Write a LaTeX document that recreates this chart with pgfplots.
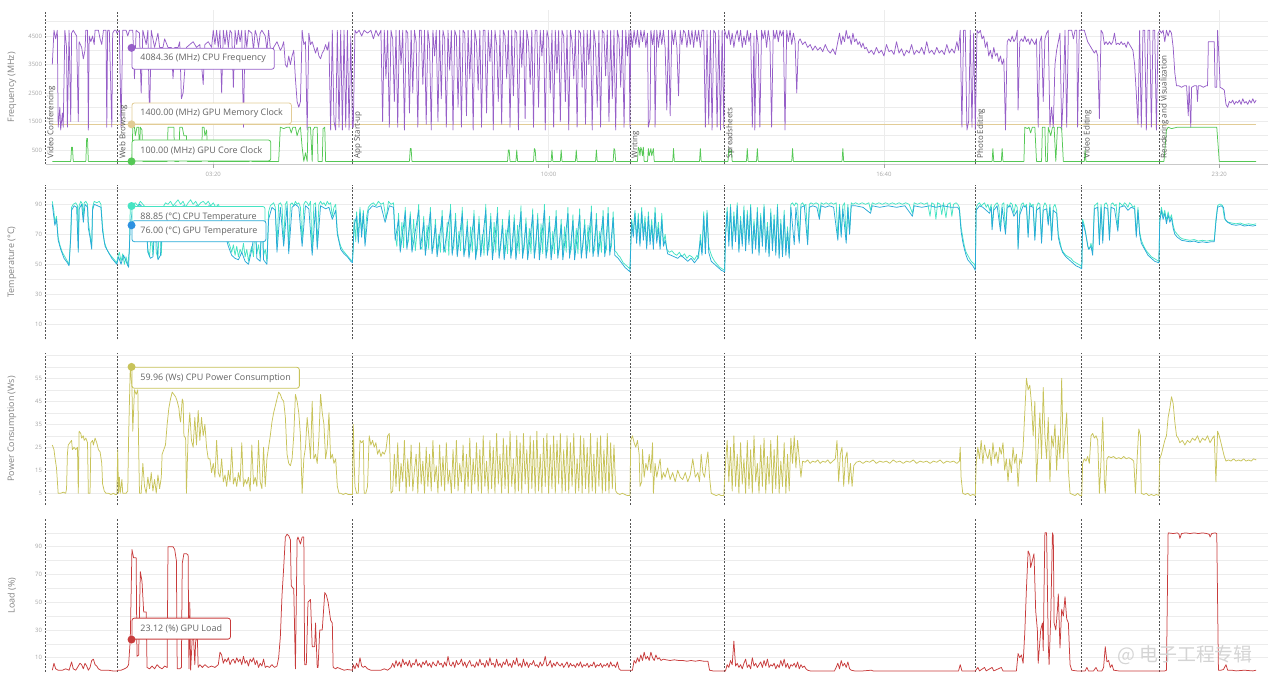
\documentclass[border=0pt]{standalone}
\usepackage{fontspec}
\setmainfont{Open Sans}
\newfontfamily\cjk{Noto Sans CJK SC}
\usepackage{pgfplots}
\pgfplotsset{compat=1.18}
\definecolor{cfreq}{RGB}{150,95,200}
\definecolor{cmem}{RGB}{226,204,150}
\definecolor{ccore}{RGB}{85,200,85}
\definecolor{ccput}{RGB}{70,228,195}
\definecolor{cgput}{RGB}{40,170,215}
\definecolor{cgpudot}{RGB}{45,145,225}
\definecolor{cpow}{RGB}{200,195,90}
\definecolor{cload}{RGB}{200,60,60}
\definecolor{gridc}{RGB}{236,236,236}
\definecolor{tickc}{RGB}{165,165,165}
\definecolor{labc}{RGB}{130,130,130}
\definecolor{evc}{RGB}{85,85,85}
\definecolor{tipc}{RGB}{100,100,100}
\pgfplotsset{
  panel/.style={scale only axis, width=1222.3bp, xmin=0, xmax=1458,
    axis line style={draw=none}, xtick=\empty, tick style={draw=none},
    major tick length=0pt, minor tick length=0pt,
    grid=both, major grid style={gridc, line width=0.6bp},
    minor grid style={gridc, line width=0.6bp},
    yticklabel style={font=\fontsize{6}{7}\selectfont, text=tickc},
    ylabel style={font=\fontsize{9}{10}\selectfont, text=labc,
      at={(axis description cs:-0.0275,0.5)}, anchor=center},
    clip=false, anchor=south west},
  ln/.style={line width=0.75bp, line join=round},
}
\tikzset{
  tip/.style={draw=#1, fill=white, rounded corners=2.5bp, line width=0.8bp,
    font=\fontsize{9}{10}\selectfont, text=tipc, inner xsep=8.5bp,
    inner ysep=0pt, minimum height=21bp},
  evlab/.style={rotate=90, anchor=north west, font=\fontsize{8}{9}\selectfont,
    text=evc, inner sep=1.5bp},
  vl/.style={evc, dash pattern=on 2bp off 1.5bp, line width=0.6bp},
}
\newcommand\vlines[1]{\pgfplotsinvokeforeach{0,86,366,697,810,1109,1236,1328}{\draw[vl] (axis cs:##1,0) -- (axis cs:##1,#1);}}
\begin{document}
\begin{tikzpicture}
\useasboundingbox (0,0) rectangle (1269bp,682bp);
% ================= Frequency =================
\begin{axis}[panel, at={(45.6bp,517.75bp)}, height=153.9bp, ymin=0, ymax=5400,
  ytick={500,1500,2500,3500,4500}, yticklabels={500,1500,2500,3500,4500},
  minor ytick={1000,2000,3000,4000,5000},
  xtick={200,600,1000,1400}, xticklabels={03:20,10:00,16:40,23:20},
  xticklabel style={font=\fontsize{6}{7}\selectfont, text=tickc, yshift=-4bp},
  ylabel={Frequency (MHz)}]
\draw[tickc!60, line width=0.6bp] (axis cs:0,0) -- (axis cs:1458,0);
\pgfplotsinvokeforeach{200,600,1000,1400}{\draw[tickc, line width=0.6bp] (axis cs:#1,0) -- ++(0,-3.5bp);}
\vlines{5400}
\addplot[ln, cmem] coordinates {(8,1400)(1444,1400)};
\addplot[ln, cfreq] coordinates {
(8,3500)(10,4700)(12,4400)(14,4700)(15,1300)(17,2000)(18,1200)(20,1800)(21,1300)(23,4700)(25,4100)(26,1300)(28,4700)(30,1500)(31,4600)(33,4700)(37,4500)(39,1500)(40,4300)(43,4100)(45,3700)(47,4000)(48,4700)(50,4700)(51,1200)(52,4500)(54,4300)(56,4500)(58,4200)(59,4700)(63,4700)(65,4400)(67,4200)(69,4700)(72,4700)(73,1300)(74,4700)(76,4700)(79,1300)(80,4600)(82,4700)(84,4700)(85,4600)
(88,4700)(90,1300)(92,4700)(96,4700)(98,4500)(100,4700)(104,4700)(106,3000)(108,4700)(112,4600)(114,2500)(116,4700)(120,4200)(122,4700)(124,1500)(126,4700)(130,4100)(134,4600)(136,4100)(140,4100)(142,4400)(146,4100)(150,4100)(152,3000)(154,4100)(158,4100)(160,4300)(162,2300)(164,2500)(168,4100)(172,4200)(176,4300)(180,4100)(184,4200)(188,2800)(190,4200)(194,4300)(198,4100)(200,4700)(202,4200)(204,4700)(206,4100)(208,4700)(210,2500)(212,4700)(214,4200)(216,4700)(218,4100)(220,4700)(222,4600)(224,2700)(226,4700)(228,4200)(230,4700)(232,4300)(234,4700)(236,1300)(238,4700)(240,4100)(242,4700)(246,4600)(248,4000)(250,4700)(252,4500)(254,4100)(256,4600)(258,4700)(262,4500)(264,4000)(266,4700)(268,4100)(270,3500)(272,4100)(276,4300)(280,4000)(282,4100)(284,4300)(286,3500)(288,3400)(290,3800)(292,3500)(294,3800)(296,4000)(298,3000)(300,2200)(302,2000)(304,2200)(306,4700)(308,4200)(310,4300)(312,1200)(314,4600)(316,4200)(318,4300)(320,4100)(322,3900)(324,4100)(326,3800)(328,3700)(330,3900)(332,4000)(334,4200)(336,4000)(338,4300)(340,1200)(342,4700)(344,1500)(346,1200)(348,4700)(350,1300)(352,4700)(354,1200)(356,4700)(358,1300)(360,4700)(362,1200)(364,4500)(366,1300)
(367,1300)(369,4700)(371,4600)(374,4700)(377,4500)(380,4700)(384,4600)(388,4700)(391,4400)(394,4700)(397,4500)(400,4700)(402,1500)(404,4700)(406,3000)(408,4700)(410,1300)(412,4700)(414,4400)(416,2200)(418,4700)(420,1300)(422,4700)(424,3500)(426,4700)(428,1200)(430,4700)(432,4600)(434,1800)(436,4700)(438,2500)(440,4700)(442,4300)(444,1300)(446,4700)(448,4700)(450,2800)(452,4700)(454,1400)(456,4700)(458,4200)(460,1200)(462,4700)(464,3800)(466,4700)(468,1500)(470,4700)(472,2300)(474,4700)(476,4400)(478,1300)(480,4700)(482,3300)(484,4700)(486,1200)(488,4700)(490,4500)(492,2000)(494,4700)(496,1300)(498,4700)(500,4600)(502,1700)(504,4700)(506,3000)(508,4700)(510,1200)(512,4700)(514,4300)(516,2600)(518,4700)(520,1300)(522,4700)(524,4700)(526,1800)(528,4700)(530,3600)(532,4700)(534,1200)(536,4700)(538,4200)(540,2200)(542,4700)(544,1400)(546,4700)(548,4500)(550,3000)(552,4700)(554,1300)(556,4700)(558,2400)(560,4700)(562,4600)(564,1200)(566,4700)(568,3400)(570,4700)(572,1600)(574,4700)(576,4300)(578,2800)(580,4700)(582,1300)(584,4700)(586,4700)(588,2000)(590,4700)(592,3800)(594,4700)(596,1200)(598,4700)(600,4400)(602,2500)(604,4700)(606,1300)(608,4700)(610,3200)(612,4700)(614,1500)(616,4700)(618,4500)(620,2200)(622,4700)(624,1200)(626,4700)(628,4300)(630,3000)(632,4700)(634,1300)(636,4700)(638,4600)(640,2700)(642,4700)(644,1400)(646,4700)(648,3500)(650,4700)(652,1200)(654,4700)(656,4200)(658,2000)(660,4700)(662,1300)(664,4700)(666,4600)(668,3100)(670,4700)(672,1500)(674,4700)(676,2300)(678,4700)(680,1200)(682,4700)(684,4400)(686,2700)(688,4700)(690,1300)(692,4700)(694,3800)(696,4700)(697,1300)
(698,4700)(700,4100)(702,4700)(704,4200)(706,4700)(708,4100)(710,4700)(712,4300)(714,4700)(716,4100)(718,4600)(719,1300)(721,1600)(722,4700)(724,4200)(726,4700)(727,1300)(729,4700)(731,4100)(733,4700)(735,4200)(737,4700)(739,4100)(741,1900)(743,4700)(745,1700)(747,4700)(749,4200)(751,4700)(753,4100)(755,2400)(757,4700)(759,4200)(761,4700)(763,4600)(765,4100)(767,4700)(769,4200)(771,4700)(773,4100)(775,4700)(777,4300)(779,4700)(781,4100)(783,4700)(785,4700)(787,1300)(789,4700)(791,1400)(793,4700)(795,1200)(797,4700)(799,4600)(801,1300)(803,4700)(805,1200)(807,4700)(809,1300)(810,4700)
(811,4600)(813,4400)(815,4700)(817,4200)(819,4600)(821,4100)(823,4500)(825,4700)(827,4300)(829,4700)(831,4100)(833,4500)(835,4200)(837,4700)(839,4300)(841,4600)(843,1300)(845,4500)(846,1200)(848,4700)(850,4200)(852,1300)(854,4700)(856,4400)(858,4700)(860,4100)(862,4700)(864,4300)(866,1300)(868,4700)(870,4400)(872,4700)(874,4300)(876,4700)(878,4500)(880,4700)(882,1200)(884,4700)(886,4300)(888,4700)(890,4200)(892,4600)(894,4300)(896,2500)(898,4300)(900,4400)(903,4200)(906,4300)(909,4100)(912,4200)(915,4000)(918,4150)(921,4000)(924,4100)(927,3950)(930,4200)(933,4000)(936,3900)(939,4050)(942,3850)(945,4300)(947,4600)(949,4200)(951,4500)(953,4300)(955,4700)(957,4400)(959,4500)(961,4200)(963,4600)(965,4300)(967,4400)(969,4200)(971,4300)(973,4100)(975,4250)(977,4050)(979,4100)(982,3900)(985,4000)(988,3850)(991,4100)(994,3900)(997,4000)(1000,3800)(1003,4200)(1006,3950)(1009,4000)(1012,3850)(1015,4300)(1018,3900)(1021,4050)(1024,3800)(1027,4000)(1030,3900)(1033,4200)(1036,3850)(1039,4000)(1042,3900)(1045,4100)(1048,3850)(1051,4300)(1054,3900)(1057,4000)(1060,3850)(1063,4100)(1066,3900)(1069,4000)(1072,3850)(1075,4200)(1078,3900)(1081,4050)(1084,3900)(1087,4300)(1089,4000)(1091,4700)(1093,1300)(1095,4700)(1097,4700)(1099,1200)(1101,1500)(1103,4700)(1105,1300)(1107,4600)(1109,1200)
(1111,4700)(1113,4600)(1115,4700)(1117,4400)(1119,4500)(1121,4100)(1123,4300)(1125,3800)(1127,4000)(1129,3700)(1131,4100)(1133,3800)(1135,3900)(1137,3600)(1139,3800)(1141,3500)(1143,3700)(1145,1200)(1147,4300)(1149,4400)(1151,4300)(1153,4500)(1155,4300)(1157,4400)(1159,4700)(1160,1900)(1162,4300)(1164,4400)(1166,4300)(1168,4500)(1170,4300)(1172,4400)(1174,4200)(1176,4400)(1178,4300)(1180,4200)(1182,4400)(1184,1300)(1186,4300)(1188,4500)(1190,2200)(1192,4400)(1194,4600)(1196,4700)(1198,1300)(1200,2000)(1202,1300)(1204,3500)(1206,4000)(1208,4300)(1210,4600)(1212,1200)(1214,2500)(1216,4700)(1218,1300)(1220,4700)(1222,4700)(1224,4700)(1226,4400)(1228,4700)(1230,4700)(1231,1300)(1233,4700)(1235,4700)
(1237,4700)(1239,4700)(1241,4500)(1243,4300)(1245,4200)(1247,4100)(1249,4000)(1251,3900)(1253,4000)(1255,3800)(1257,1600)(1259,4700)(1261,4600)(1263,4200)(1265,4300)(1267,4200)(1269,4300)(1271,4200)(1273,4300)(1275,4600)(1277,4200)(1279,4250)(1281,4200)(1283,4300)(1285,4200)(1287,4250)(1289,4100)(1291,4300)(1293,4200)(1295,4100)(1297,4000)(1299,3500)(1301,2500)(1303,1400)(1305,4700)(1307,1300)(1309,4700)(1311,4700)(1313,1200)(1315,4700)(1317,4700)(1319,1300)(1321,4700)(1323,4700)(1325,1200)(1327,4600)
(1329,4700)(1331,4600)(1333,4700)(1335,4300)(1337,4700)(1339,4500)(1341,4700)(1343,4600)(1345,4100)(1347,3200)(1349,2750)(1352,2750)(1355,2700)(1358,2750)(1361,2750)(1363,1700)(1364,2750)(1366,1300)(1367,2700)(1370,2750)(1373,2750)(1374,2200)(1375,2750)(1378,2750)(1381,2700)(1384,2750)(1386,2750)(1387,4300)(1390,4300)(1393,4300)(1394,4300)(1395,2700)(1397,2700)(1398,4700)(1400,3500)(1401,2700)(1404,2650)(1406,2600)(1408,2100)(1410,2000)(1412,2200)(1414,2150)(1416,2250)(1418,2100)(1420,2200)(1422,2150)(1424,2250)(1426,2100)(1428,2300)(1430,2150)(1432,2200)(1434,2100)(1436,2250)(1438,2150)(1440,2300)(1442,2150)(1444,2250)};
\addplot[ln, ccore] coordinates {
(8,100)(30,100)(31,600)(32,600)(33,100)(48,100)(49,900)(50,900)(51,100)
(103,100)(104,1300)(106,1300)(107,1000)(109,1300)(111,1300)(112,300)(113,1300)(115,1200)(116,100)(145,100)(146,1300)(153,1300)(154,100)(159,100)(160,1300)(163,1300)(165,1000)(168,1000)(169,100)(186,100)(187,1300)(189,1300)(190,1000)(192,1200)(194,100)(243,100)(244,400)(246,100)(278,100)(280,1300)(284,1250)(288,1300)(291,1300)(293,1100)(295,1300)(298,1300)(300,1000)(302,1200)(304,1300)(306,600)(308,100)(310,400)(312,100)(313,1300)(316,1300)(318,100)(319,1200)(321,1300)(324,1300)(325,100)(330,100)(331,1250)(333,1300)(334,100)
(434,100)(435,550)(436,550)(437,100)(551,100)(552,500)(553,500)(554,100)(561,100)(562,500)(563,100)(582,100)(583,550)(584,500)(585,100)(603,100)(604,500)(605,100)(614,100)(615,500)(616,100)(632,100)(633,500)(634,100)(656,100)(657,500)(658,100)(677,100)(678,550)(679,500)(680,100)
(706,100)(707,600)(708,550)(709,300)(710,600)(711,500)(712,300)(713,600)(714,100)(718,100)(719,550)(720,300)(722,550)(723,300)(725,550)(726,100)(748,100)(749,550)(750,100)(780,100)(781,550)(782,100)
(814,100)(815,550)(816,400)(818,500)(819,100)(836,100)(837,550)(838,100)(848,100)(849,550)(850,100)(890,100)(891,550)(892,100)(950,100)(951,550)(952,100)
(1129,100)(1130,550)(1131,100)(1140,100)(1141,550)(1142,100)(1167,100)(1168,1300)(1171,1250)(1173,1300)(1175,1100)(1177,1300)(1180,1300)(1182,100)(1188,100)(1189,1300)(1192,1300)(1193,100)(1195,100)(1196,1300)(1199,1000)(1201,1300)(1203,1300)(1205,100)(1207,1300)(1210,1300)(1212,1250)(1214,100)
(1239,100)(1240,500)(1241,100)(1334,100)(1337,1200)(1339,1300)(1343,1250)(1350,1300)(1397,1300)(1400,100)(1444,100)};
\node[evlab] at (axis cs:0,150) {Video Conferencing};
\node[evlab] at (axis cs:86,150) {Web Browsing};
\node[evlab] at (axis cs:366,150) {App Start-up};
\node[evlab] at (axis cs:697,150) {Writing};
\node[evlab] at (axis cs:810,150) {Spreadsheets};
\node[evlab] at (axis cs:1109,150) {Photo Editing};
\node[evlab] at (axis cs:1236,150) {Video Editing};
\node[evlab] at (axis cs:1328,150) {Rendering and Visualization};
\node[tip=cfreq, anchor=north west] at (axis cs:102.5,4084.36) {4084.36 (MHz) CPU Frequency};
\node[tip=cmem, anchor=south west] at (axis cs:102.5,1400) {1400.00 (MHz) GPU Memory Clock};
\node[tip=ccore, anchor=south west] at (axis cs:102.5,100) {100.00 (MHz) GPU Core Clock};
\fill[cfreq] (axis cs:102.5,4084.36) circle (4bp);
\fill[cmem] (axis cs:102.5,1400) circle (4bp);
\fill[ccore] (axis cs:102.5,100) circle (4bp);
\end{axis}
% ================= Temperature =================
\begin{axis}[panel, at={(45.6bp,342.7bp)}, height=154.5bp, ymin=0, ymax=103,
  ytick={10,30,50,70,90}, yticklabels={10,30,50,70,90},
  minor ytick={20,40,60,80,100},
  ylabel={Temperature (°C)}]
\vlines{103}
\addplot[ln, ccput] coordinates {
(8,92)(10,85)(11,78)(13,82)(15,68)(17,63)(20,58)(23,55)(26,52)(28,50)(30,70)(31,88)(33,90)(36,91)(38,89)(39,60)(40,89)(42,92)(44,90)(45,80)(46,91)(48,92)(50,90)(51,78)(53,70)(55,62)(56,88)(58,92)(61,91)(64,92)(66,90)(68,75)(70,65)(73,60)(76,57)(79,55)(82,53)(85,51)
(86,55)(88,58)(90,52)(92,57)(94,50)(96,55)(98,49)(100,60)(101,88)(104,90)(107,91)(110,89)(113,92)(116,90)(119,88)(122,60)(124,55)(126,70)(128,56)(130,85)(132,58)(134,54)(136,80)(138,56)(140,88)(143,91)(146,90)(149,92)(152,89)(155,91)(158,93)(161,90)(164,92)(167,88)(170,91)(173,93)(176,90)(179,92)(182,89)(185,91)(188,92)(191,90)(194,92)(197,89)(200,91)(203,88)(206,90)(209,86)(212,80)(215,72)(218,65)(220,62)(222,58)(224,63)(226,56)(228,62)(230,55)(232,60)(234,57)(236,64)(238,55)(240,60)(242,52)(244,58)(246,62)(248,55)(250,80)(252,57)(254,63)(256,54)(258,88)(260,56)(262,60)(264,52)(266,85)(268,89)(270,90)(272,91)(274,88)(276,62)(278,90)(280,91)(282,89)(284,64)(286,90)(288,92)(290,60)(292,90)(294,91)(296,89)(298,92)(300,90)(302,91)(304,88)(306,65)(308,90)(310,92)(312,91)(314,89)(316,92)(318,58)(320,90)(322,91)(324,63)(326,90)(328,92)(330,90)(332,91)(334,89)(336,92)(338,90)(340,91)(342,82)(344,88)(346,90)(348,72)(350,66)(352,62)(355,59)(358,57)(361,55)(364,53)(366,52)
(367,60)(368,80)(370,65)(371,85)(373,68)(375,88)(377,72)(379,86)(381,66)(383,82)(385,88)(388,90)(391,91)(394,89)(397,92)(400,90)(403,91)(406,80)(409,92)(412,90)(415,91)(417,70)(419,62)(421,84)(423,60)(425,78)(427,61)(429,88)(431,62)(433,66)(435,85)(437,60)(439,80)(441,59)(443,72)(445,90)(447,62)(449,60)(451,82)(453,58)(455,76)(457,60)(459,88)(461,59)(463,62)(465,80)(467,57)(469,70)(471,58)(473,86)(475,60)(477,58)(479,78)(481,56)(483,90)(485,58)(487,62)(489,84)(491,57)(493,72)(495,59)(497,88)(499,57)(501,60)(503,80)(505,56)(507,75)(509,58)(511,86)(513,55)(515,60)(517,82)(519,57)(521,70)(523,56)(525,90)(527,58)(529,61)(531,84)(533,55)(535,78)(537,58)(539,88)(541,56)(543,62)(545,80)(547,55)(549,73)(551,57)(553,86)(555,56)(557,60)(559,83)(561,55)(563,76)(565,57)(567,89)(569,56)(571,61)(573,81)(575,55)(577,74)(579,57)(581,87)(583,56)(585,62)(587,84)(589,55)(591,77)(593,57)(595,90)(597,56)(599,60)(601,82)(603,55)(605,72)(607,57)(609,86)(611,56)(613,61)(615,80)(617,55)(619,75)(621,58)(623,88)(625,56)(627,60)(629,83)(631,55)(633,74)(635,57)(637,87)(639,56)(641,62)(643,80)(645,56)(647,76)(649,58)(651,89)(653,57)(655,60)(657,84)(659,57)(661,72)(663,58)(665,86)(667,57)(669,60)(671,88)(673,58)(675,62)(677,85)(679,59)(681,58)(683,56)(685,55)(687,53)(689,51)(691,50)(693,49)(695,48)(697,47)
(698,65)(699,80)(701,72)(703,86)(705,68)(707,84)(709,64)(711,88)(713,70)(715,82)(717,62)(719,85)(721,66)(723,80)(725,63)(727,88)(729,68)(731,78)(733,62)(735,84)(737,64)(739,70)(741,60)(744,58)(747,59)(750,57)(753,56)(756,58)(759,55)(762,57)(765,54)(768,56)(771,55)(774,53)(777,56)(779,54)(781,70)(783,58)(785,85)(787,60)(789,86)(791,62)(793,58)(795,55)(798,52)(801,50)(804,48)(807,47)(810,46)
(811,70)(813,88)(815,65)(817,90)(819,62)(821,85)(823,68)(825,91)(827,60)(829,82)(831,64)(833,89)(835,61)(837,86)(839,66)(841,90)(843,59)(845,80)(847,62)(849,88)(851,58)(853,84)(855,64)(857,90)(859,60)(861,78)(863,57)(865,87)(867,61)(869,83)(871,58)(873,90)(875,56)(877,80)(879,57)(881,86)(883,58)(885,75)(887,56)(889,90)(891,91)(893,89)(895,91)(897,90)(899,66)(901,90)(903,91)(905,89)(907,90)(909,65)(911,90)(913,91)(916,90)(919,91)(922,90)(923,82)(925,91)(928,90)(931,91)(934,90)(937,91)(940,90)(943,91)(945,68)(947,90)(949,70)(951,89)(953,91)(955,66)(957,90)(959,72)(961,91)(963,90)(966,91)(970,90)(974,91)(978,90)(982,91)(984,86)(986,91)(990,90)(994,91)(998,90)(1002,91)(1006,90)(1010,91)(1014,90)(1018,91)(1022,90)(1026,91)(1030,90)(1034,84)(1036,91)(1040,90)(1044,91)(1048,90)(1052,91)(1055,82)(1057,91)(1060,90)(1062,80)(1064,91)(1067,90)(1069,83)(1071,91)(1074,81)(1076,90)(1079,91)(1081,82)(1083,90)(1086,91)(1088,90)(1090,88)(1092,75)(1094,68)(1096,62)(1098,58)(1100,56)(1102,54)(1104,52)(1106,51)(1108,50)(1109,48)
(1110,88)(1112,90)(1114,91)(1116,89)(1118,90)(1120,91)(1122,88)(1124,90)(1126,86)(1128,90)(1129,75)(1131,88)(1133,90)(1135,91)(1137,89)(1139,74)(1141,90)(1143,91)(1145,72)(1147,90)(1149,88)(1151,91)(1153,90)(1155,84)(1157,90)(1159,88)(1160,62)(1162,85)(1164,90)(1166,91)(1168,88)(1170,90)(1172,70)(1174,91)(1176,89)(1178,90)(1180,68)(1182,88)(1184,91)(1186,90)(1188,66)(1190,88)(1192,91)(1194,89)(1196,78)(1198,90)(1200,68)(1202,88)(1204,90)(1206,86)(1208,70)(1210,65)(1212,60)(1214,58)(1217,56)(1220,55)(1223,54)(1226,52)(1229,51)(1232,50)(1235,49)(1236,48)
(1237,80)(1239,76)(1241,70)(1243,62)(1245,60)(1247,64)(1249,58)(1251,89)(1253,90)(1255,91)(1257,65)(1259,90)(1261,66)(1263,90)(1265,91)(1267,89)(1269,68)(1271,90)(1273,91)(1275,89)(1277,90)(1279,74)(1281,91)(1283,90)(1285,89)(1287,91)(1289,90)(1291,88)(1293,91)(1295,90)(1297,88)(1299,89)(1301,70)(1303,88)(1305,72)(1307,66)(1310,62)(1313,59)(1316,57)(1319,55)(1322,54)(1325,53)(1328,52)
(1329,80)(1331,88)(1333,82)(1335,86)(1337,79)(1339,85)(1341,80)(1343,83)(1345,76)(1347,72)(1350,70)(1353,68)(1356,67)(1360,66.5)(1365,66)(1370,66.5)(1375,65.5)(1380,66)(1385,65.5)(1390,66)(1394,66)(1396,80)(1398,89)(1400,90)(1402,90)(1404,89)(1406,81)(1408,79)(1411,78)(1415,77.5)(1420,77)(1425,77.5)(1430,76.5)(1435,77)(1440,76.5)(1444,77)};
\addplot[ln, cgput] coordinates {
(8,90)(11,76)(13,80)(15,66)(18,60)(22,54)(26,51)(28,49)(30,68)(31,86)(34,89)(37,88)(39,58)(40,87)(43,90)(45,78)(47,90)(50,88)(51,74)(53,68)(55,60)(56,86)(58,90)(62,89)(66,88)(68,72)(71,62)(75,58)(79,54)(82,52)(85,50)
(87,55)(90,50)(93,56)(96,52)(99,48)(101,76)(104,88)(108,86)(112,90)(116,88)(119,85)(122,58)(125,54)(128,55)(131,80)(134,53)(137,56)(140,85)(145,88)(150,87)(155,89)(160,88)(165,89)(170,87)(175,88)(180,89)(185,88)(190,87)(195,89)(200,88)(205,86)(209,82)(212,75)(215,68)(218,62)(222,56)(226,54)(230,53)(234,58)(238,52)(242,50)(246,60)(250,75)(252,54)(256,52)(258,82)(260,53)(264,50)(266,80)(270,88)(274,86)(276,58)(280,88)(284,62)(288,89)(290,57)(294,88)(298,90)(302,88)(306,62)(310,89)(314,87)(318,56)(322,88)(324,60)(328,89)(334,87)(338,88)(342,80)(346,86)(348,70)(352,60)(356,57)(360,55)(364,52)(366,51)
(368,76)(371,82)(373,64)(375,85)(377,68)(379,84)(381,62)(385,86)(390,89)(395,88)(400,89)(405,78)(410,89)(415,88)(417,66)(421,80)(423,58)(429,85)(431,60)(435,82)(437,58)(445,86)(447,60)(451,78)(453,56)(459,85)(461,57)(465,76)(467,55)(473,82)(475,58)(483,86)(485,56)(489,80)(491,55)(497,84)(499,55)(503,76)(505,54)(511,82)(513,53)(517,78)(519,55)(525,86)(527,56)(531,80)(533,53)(539,84)(541,54)(545,76)(547,53)(553,82)(555,54)(559,79)(561,53)(567,85)(569,54)(573,77)(575,53)(581,83)(583,54)(587,80)(589,53)(595,86)(597,54)(601,78)(603,53)(609,82)(611,54)(615,76)(617,53)(623,84)(625,54)(629,79)(631,53)(637,83)(639,54)(643,76)(645,54)(651,85)(653,55)(657,80)(659,55)(665,82)(667,55)(671,84)(673,56)(677,81)(679,56)(683,54)(687,51)(691,48)(695,46)(697,45)
(699,78)(701,68)(703,84)(705,64)(707,80)(709,62)(711,85)(713,66)(715,78)(717,60)(719,82)(721,63)(723,76)(725,60)(727,84)(729,64)(731,74)(733,60)(735,80)(737,62)(739,66)(742,57)(746,56)(750,55)(754,54)(758,56)(762,54)(766,52)(770,54)(774,51)(778,54)(781,66)(783,56)(785,82)(787,57)(789,84)(791,58)(794,52)(798,50)(802,48)(806,46)(810,45)
(811,68)(813,85)(815,62)(817,88)(819,60)(821,82)(823,65)(825,89)(827,58)(829,79)(831,62)(833,86)(835,59)(837,83)(839,63)(841,88)(843,57)(845,77)(847,60)(849,85)(851,56)(853,81)(855,62)(857,88)(859,58)(861,75)(863,55)(865,84)(867,59)(869,80)(871,56)(873,88)(875,54)(877,77)(879,55)(881,83)(883,56)(885,72)(887,54)(889,88)(893,63)(895,88)(899,64)(901,88)(905,89)(909,63)(911,88)(915,89)(920,88)(923,80)(925,89)(930,88)(935,89)(940,88)(945,66)(947,88)(949,68)(951,87)(955,64)(957,88)(959,70)(961,89)(966,89)(975,88)(984,84)(986,89)(995,88)(1005,89)(1015,88)(1025,89)(1034,82)(1036,89)(1045,88)(1055,89)(1062,88)(1070,89)(1080,88)(1088,88)(1090,86)(1092,72)(1094,65)(1096,60)(1098,56)(1100,53)(1103,51)(1106,49)(1109,46)
(1110,86)(1114,89)(1118,88)(1122,86)(1126,84)(1128,88)(1129,73)(1131,86)(1135,89)(1139,72)(1141,88)(1145,70)(1147,88)(1151,89)(1155,82)(1159,86)(1160,60)(1162,83)(1166,89)(1170,88)(1172,68)(1174,89)(1178,88)(1180,66)(1182,86)(1186,88)(1188,64)(1190,86)(1194,87)(1196,76)(1198,88)(1200,66)(1202,86)(1206,84)(1208,68)(1210,63)(1213,58)(1217,55)(1221,53)(1225,51)(1229,49)(1233,48)(1236,47)
(1237,78)(1240,72)(1242,66)(1244,60)(1247,62)(1249,56)(1251,87)(1255,88)(1257,63)(1259,88)(1261,64)(1263,88)(1267,87)(1269,66)(1271,88)(1275,87)(1279,72)(1281,88)(1287,89)(1291,86)(1295,88)(1299,87)(1301,68)(1303,86)(1305,70)(1307,64)(1311,60)(1315,56)(1319,54)(1323,52)(1328,51)
(1329,78)(1331,86)(1333,80)(1335,84)(1337,77)(1339,83)(1341,78)(1343,81)(1345,74)(1347,70)(1350,68)(1355,66)(1360,65.5)(1365,65)(1370,65.5)(1375,64.5)(1380,65)(1385,64.5)(1390,65)(1394,65)(1396,78)(1398,88)(1402,89)(1405,88)(1407,80)(1410,78)(1415,76.5)(1420,76)(1425,76.5)(1430,75.5)(1435,76)(1440,75.5)(1444,76)};
\node[tip=ccput, anchor=north west] at (axis cs:102.5,88.85) {88.85 (°C) CPU Temperature};
\node[tip=cgput, anchor=north west, yshift=5bp] at (axis cs:102.5,76) {76.00 (°C) GPU Temperature};
\fill[ccput] (axis cs:102.5,88.85) circle (4bp);
\fill[cgpudot] (axis cs:102.5,76) circle (4bp);
\end{axis}
% ================= Power =================
\begin{axis}[panel, at={(45.6bp,177.2bp)}, height=151.8bp, ymin=0, ymax=66,
  ytick={5,15,25,35,45,55}, yticklabels={5,15,25,35,45,55},
  minor ytick={10,20,30,40,50,60,65},
  ylabel={Power Consumption (Ws)}]
\vlines{66}
\addplot[ln, cpow] coordinates {
(8,26)(10,24)(11,21)(13,16)(15,5)(18,5)(21,5.5)(24,5)(25,7)(26,22)(27,26)(29,27)(31,28)(32,24)(34,25)(36,24)(38,25)(39,5)(40,32)(42,31)(43,29)(45,30)(46,28)(48,29)(50,27)(51,5)(53,5)(54,27)(56,28)(57,26)(59,29)(61,27)(63,24)(65,23)(67,18)(68,9)(70,6)(72,5)(75,5)(78,4.5)(81,5)(83,4.5)(85,4.5)
(86,24)(87,5)(88,12)(89,5)(91,11)(92,5)(94,5)(96,5)(98,6)(99,29)(101,60)(103,51)(104,32)(106,50)(108,48)(110,50)(111,25)(112,5)(114,5)(116,18)(118,8)(120,5)(122,12)(124,7)(126,14)(128,6)(130,11)(132,5)(134,13)(136,7)(138,12)(139,22)(141,24)(143,26)(145,35)(147,42)(149,46)(151,49)(153,48)(155,47)(157,45)(159,42)(160,38)(161,36)(163,46)(164,45)(165,30)(167,29)(168,5)(170,30)(172,40)(174,28)(176,25)(178,38)(180,26)(182,41)(184,28)(186,38)(188,30)(190,35)(192,25)(194,20)(196,20)(198,14)(200,18)(202,12)(204,28)(206,14)(208,12)(210,20)(212,10)(214,13)(216,8)(218,15)(220,10)(222,25)(224,9)(226,12)(228,8)(230,14)(232,10)(234,27)(236,8)(238,11)(240,9)(242,12)(244,6)(246,26)(248,9)(250,12)(252,8)(254,28)(256,10)(258,7)(260,25)(262,8)(264,20)(266,25)(268,30)(270,36)(272,40)(274,43)(276,46)(278,49)(280,48)(282,46)(284,45)(286,38)(288,22)(290,18)(292,17)(294,20)(296,30)(298,48)(300,45)(302,40)(304,30)(306,5)(308,20)(310,25)(312,38)(314,30)(316,20)(318,45)(320,20)(322,22)(324,18)(326,29)(328,48)(330,40)(332,35)(334,20)(336,25)(338,40)(340,20)(342,22)(344,18)(346,20)(348,8)(350,5)(352,5)(355,4.5)(358,5)(361,4.5)(364,4.5)(366,4.5)
(367,35)(368,20)(369,8)(371,5)(373,5)(375,28)(377,27)(379,28)(380,5)(382,5)(384,8)(386,30)(388,26)(390,28)(392,25)(394,27)(396,22)(398,24)(400,21)(402,23)(404,22)(406,24)(408,30)(410,31)(412,5)(414,6)(416,22)(418,8)(420,27)(422,6)(424,18)(426,10)(428,28)(430,5)(432,20)(434,8)(436,26)(438,6)(440,15)(442,22)(444,5)(446,27)(448,9)(450,19)(452,5)(454,25)(456,8)(458,22)(460,6)(462,28)(464,10)(466,17)(468,5)(470,26)(472,8)(474,21)(476,6)(478,27)(480,9)(482,15)(484,5)(486,24)(488,7)(490,28)(492,6)(494,18)(496,10)(498,26)(500,5)(502,22)(504,8)(506,29)(508,5)(510,20)(512,9)(514,27)(516,6)(518,24)(520,5)(522,30)(524,8)(526,19)(528,5)(530,28)(532,7)(534,25)(536,5)(538,31)(540,9)(542,22)(544,5)(546,29)(548,7)(550,26)(552,5)(554,32)(556,8)(558,20)(560,5)(562,30)(564,6)(566,27)(568,5)(570,31)(572,9)(574,24)(576,5)(578,30)(580,7)(582,28)(584,5)(586,32)(588,6)(590,22)(592,5)(594,29)(596,8)(598,31)(600,5)(602,26)(604,7)(606,30)(608,5)(610,28)(612,9)(614,31)(616,5)(618,24)(620,6)(622,30)(624,5)(626,27)(628,8)(630,31)(632,5)(634,20)(636,6)(638,30)(640,5)(642,29)(644,7)(646,25)(648,5)(650,31)(652,6)(654,22)(656,5)(658,29)(660,8)(662,30)(664,5)(666,24)(668,6)(670,31)(672,5)(674,27)(676,7)(678,26)(680,6)(682,5)(685,4.5)(688,5)(691,4.5)(694,4)(697,4)
(698,28)(700,30)(702,27)(704,25)(706,28)(708,22)(709,8)(711,10)(712,24)(714,12)(716,18)(718,15)(720,22)(722,14)(724,27)(725,5)(727,18)(729,12)(731,16)(733,20)(735,11)(737,14)(739,12)(742,16)(745,11)(748,14)(751,10)(754,15)(757,12)(760,11)(763,14)(766,10)(769,13)(772,20)(775,12)(778,14)(780,10)(782,22)(784,14)(786,12)(788,18)(790,23)(792,12)(794,5)(797,4.5)(800,4)(803,4.5)(806,4)(809,4)
(811,18)(813,28)(815,10)(817,25)(819,6)(821,30)(823,8)(825,22)(827,5)(829,27)(831,9)(833,20)(835,5)(837,28)(839,7)(841,24)(843,5)(845,30)(847,10)(849,18)(851,5)(853,26)(855,8)(857,29)(859,5)(861,21)(863,9)(865,28)(867,5)(869,24)(871,7)(873,30)(875,5)(877,19)(879,8)(881,27)(883,5)(885,22)(887,6)(889,29)(891,18)(893,30)(895,16)(897,28)(899,20)(901,12)(903,19)(906,18.5)(909,19.5)(912,18)(915,19)(918,18.5)(921,19.5)(924,18)(927,19)(930,18.5)(933,19.5)(936,18)(939,19)(942,20)(944,28)(946,10)(948,22)(950,25)(952,8)(954,20)(956,23)(958,9)(960,18)(962,8)(964,17)(967,18.5)(971,19)(975,18)(979,19)(983,18.5)(987,19.5)(991,18)(995,19)(999,18.5)(1003,19)(1007,18)(1011,19.5)(1015,18.5)(1019,19)(1023,18)(1027,19)(1031,18.5)(1035,19.5)(1039,18)(1043,19)(1047,18.5)(1051,19)(1055,18)(1059,19)(1063,18.5)(1067,19.5)(1071,18)(1075,19)(1079,18.5)(1083,19)(1087,18)(1090,19)(1091,25)(1092,12)(1094,5)(1097,4.5)(1100,5)(1103,4)(1106,4.5)(1109,4)
(1110,18)(1112,25)(1114,20)(1116,28)(1118,18)(1120,26)(1122,22)(1124,20)(1126,24)(1128,17)(1130,27)(1132,20)(1134,23)(1136,18)(1138,25)(1140,22)(1142,27)(1144,15)(1146,20)(1148,10)(1150,20)(1152,14)(1154,25)(1156,18)(1158,22)(1160,8)(1162,20)(1164,18)(1166,25)(1168,40)(1170,55)(1172,50)(1174,52)(1176,44)(1178,30)(1180,45)(1182,10)(1184,25)(1186,40)(1188,20)(1190,51)(1192,30)(1194,20)(1196,38)(1198,10)(1200,30)(1202,25)(1204,35)(1206,15)(1208,30)(1210,20)(1212,55)(1214,20)(1216,30)(1218,40)(1220,15)(1222,5)(1225,4.5)(1228,4)(1231,5)(1234,4)(1236,4)
(1237,18)(1239,20)(1241,19)(1243,21)(1245,18)(1247,30)(1249,31)(1251,29)(1253,30)(1255,28)(1257,5)(1259,20)(1261,38)(1263,10)(1264,5)(1266,20)(1268,21)(1271,20.5)(1274,21)(1277,20)(1280,20.5)(1283,20)(1286,21)(1289,20)(1292,20.5)(1295,20)(1298,19)(1300,5)(1302,20)(1304,33)(1306,30)(1307,5)(1310,4.5)(1313,5)(1316,4)(1319,4.5)(1322,4)(1325,4.5)(1328,4)
(1329,20)(1331,22)(1333,25)(1335,28)(1337,30)(1339,38)(1341,42)(1343,47)(1345,44)(1347,36)(1349,30)(1351,29)(1353,27)(1356,28)(1359,26)(1362,28)(1365,27)(1368,29)(1371,28)(1374,30)(1377,27)(1380,29)(1383,28)(1386,30)(1389,27)(1392,29)(1394,30)(1396,10)(1398,32)(1400,30)(1402,27)(1404,24)(1406,21)(1408,19)(1411,19.5)(1414,19)(1417,20)(1420,19)(1423,19.5)(1426,19)(1429,20)(1432,19)(1435,19.5)(1438,19)(1441,20)(1444,19.5)};
\node[tip=cpow, anchor=north west] at (axis cs:102.5,59.96) {59.96 (Ws) CPU Power Consumption};
\fill[cpow] (axis cs:102.5,59.96) circle (4bp);
\end{axis}
% ================= Load =================
\begin{axis}[panel, at={(45.6bp,10.4bp)}, height=152.6bp, ymin=0, ymax=110,
  ytick={10,30,50,70,90}, yticklabels={10,30,50,70,90},
  minor ytick={20,40,60,80,100},
  ylabel={Load (\%)}]
\vlines{110}
\addplot[ln, cload] coordinates {
(8,1)(10,6)(12,2)(15,1)(20,1)(24,2)(28,1)(31,7)(33,2)(36,1)(39,4)(41,6)(43,5)(45,2)(47,6)(49,4)(51,1)(53,3)(55,8)(57,9)(59,5)(61,4)(63,2)(66,1)(70,1)(75,1)(80,0.5)(85,0.5)
(86,1)(90,1)(94,2)(97,3)(99,5)(101,23)(103,88)(105,82)(108,82)(109,11)(111,12)(113,72)(115,65)(117,43)(120,43)(121,3)(124,2)(127,4)(130,2)(133,5)(136,3)(139,2)(142,4)(145,3)(146,90)(149,90)(152,90)(154,88)(156,80)(157,2)(160,2)(162,3)(163,78)(165,85)(168,85)(170,84)(171,2)(172,50)(173,1)(175,25)(176,30)(178,5)(179,22)(181,25)(182,3)(184,5)(187,3)(190,5)(194,3)(198,4)(202,3)(206,5)(208,14)(210,12)(212,6)(214,9)(216,7)(218,10)(220,5)(222,8)(224,9)(226,6)(228,10)(230,7)(232,9)(234,5)(236,11)(238,6)(240,8)(242,4)(244,9)(246,7)(248,10)(250,5)(252,8)(254,3)(256,6)(258,4)(260,9)(262,3)(264,4)(267,3)(270,5)(273,3)(276,4)(278,10)(280,25)(282,55)(284,75)(286,97)(288,99)(290,98)(292,95)(293,62)(295,60)(296,60)(298,2)(300,95)(301,97)(304,92)(306,97)(308,97)(309,5)(311,5)(313,50)(316,52)(318,18)(321,18)(322,35)(324,3)(325,3)(327,30)(330,30)(333,57)(335,55)(337,50)(340,37)(342,35)(343,3)(346,2)(348,3)(352,2)(356,1)(360,1.5)(366,1)
(367,5)(369,2)(371,6)(373,3)(375,10)(377,4)(379,3)(381,4)(384,2)(388,1)(392,1)(396,1)(400,1)(404,2)(408,1)(412,3)(414,6)(416,3)(418,8)(420,4)(422,7)(424,3)(426,9)(428,5)(430,7)(432,4)(434,8)(436,3)(438,6)(440,5)(442,9)(444,4)(446,6)(448,3)(450,7)(452,5)(454,8)(456,4)(458,6)(460,3)(462,7)(464,5)(466,4)(468,8)(470,5)(472,6)(474,3)(476,7)(478,4)(480,11)(482,5)(484,4)(486,7)(488,3)(490,8)(492,5)(494,6)(496,9)(498,4)(500,7)(502,3)(504,6)(506,8)(508,4)(510,5)(512,3)(514,7)(516,4)(518,9)(520,5)(522,6)(524,3)(526,8)(528,4)(530,10)(532,5)(534,6)(536,3)(538,9)(540,4)(542,6)(544,3)(546,7)(548,5)(550,9)(552,4)(554,6)(556,3)(558,8)(560,5)(562,10)(564,4)(566,6)(568,3)(570,9)(572,4)(574,7)(576,3)(578,6)(580,5)(582,8)(584,4)(586,5)(588,3)(590,7)(592,4)(594,6)(596,11)(598,4)(600,5)(602,8)(604,3)(606,6)(608,4)(610,7)(612,5)(614,4)(616,6)(618,3)(620,5)(622,7)(624,3)(626,6)(628,4)(630,5)(632,3)(634,6)(636,4)(638,7)(640,3)(642,5)(644,4)(646,6)(648,3)(650,5)(652,4)(654,7)(656,3)(658,5)(660,4)(662,6)(664,3)(666,5)(668,4)(670,6)(672,3)(674,7)(676,4)(678,5)(680,3)(682,7)(684,2)(686,1)(690,1)(694,1)(697,1)
(698,1)(700,1)(702,8)(704,6)(706,10)(708,7)(710,12)(712,8)(714,14)(716,9)(718,11)(720,8)(722,14)(724,10)(726,8)(728,12)(730,9)(732,10)(734,8)(737,9)(740,8.5)(745,8)(750,8.5)(755,8)(760,8)(765,7.5)(770,8)(775,7.5)(780,8)(785,7.5)(790,7.5)(792,1)(796,0.5)(800,0.5)(805,0.5)(810,0.5)
(811,0.5)(813,5)(815,3)(817,8)(819,5)(821,22)(823,4)(825,6)(827,3)(829,5)(831,2)(833,6)(835,9)(837,3)(839,5)(841,2)(843,10)(845,4)(847,6)(849,3)(851,5)(853,7)(855,3)(857,8)(859,4)(861,9)(863,3)(865,5)(867,4)(869,6)(871,2)(873,5)(875,3)(877,8)(879,4)(881,9)(883,3)(885,6)(887,2)(889,5)(891,4)(893,6)(895,3)(897,7)(899,2)(901,5)(903,3)(905,4)(907,2)(909,1)(912,0.5)(920,0.5)(930,0.5)(941,0.5)(943,3)(945,6)(947,2)(949,8)(951,4)(953,6)(955,3)(957,7)(959,2)(961,1)(965,0.5)(975,0.5)(985,1)(987,0.5)(1000,0.5)(1020,0.5)(1040,0.5)(1060,0.5)(1080,0.5)(1089,0.5)(1091,5)(1093,0.5)(1109,0.5)
(1112,3)(1114,0.5)(1120,3)(1122,0.5)(1129,3)(1131,0.5)(1140,3)(1142,0.5)(1150,0.5)(1158,0.5)(1160,13)(1162,10)(1164,12)(1166,6)(1168,28)(1170,60)(1172,87)(1174,84)(1175,75)(1177,80)(1179,85)(1181,44)(1183,30)(1184,6)(1187,30)(1189,35)(1190,15)(1191,60)(1192,100)(1194,100)(1196,20)(1197,5)(1199,40)(1201,100)(1202,98)(1203,35)(1205,30)(1207,45)(1208,56)(1210,17)(1212,45)(1214,40)(1216,54)(1218,38)(1220,35)(1222,5)(1224,1)(1230,0.5)(1236,0.5)
(1237,0.5)(1240,0.5)(1242,3)(1244,0.5)(1250,0.5)(1253,3)(1255,0.5)(1260,0.5)(1262,3)(1264,18)(1266,7)(1268,8)(1270,3)(1272,5)(1274,1)(1280,0.5)(1300,0.5)(1328,0.5)
(1329,0.5)(1335,0.5)(1337,1)(1339,100)(1345,99.5)(1350,100)(1352,99)(1353,96)(1355,99.5)(1360,100)(1365,99.5)(1370,100)(1375,99.5)(1380,100)(1385,99.5)(1388,99)(1389,97)(1391,99.5)(1395,100)(1397,99.5)(1399,1)(1402,1)(1405,1.5)(1408,5)(1410,1)(1415,1)(1420,0.5)(1430,1)(1440,0.5)(1444,1)};
\node[tip=cload, anchor=south west] at (axis cs:102.5,23.12) {23.12 (\%) GPU Load};
\fill[cload] (axis cs:102.5,23.12) circle (4bp);
\end{axis}
\node[text=black!17, font=\cjk\fontsize{19}{20}\selectfont] at (1185bp,27bp) {@ 电子工程专辑};
\end{tikzpicture}
\end{document}
